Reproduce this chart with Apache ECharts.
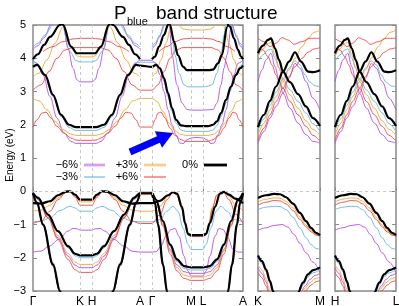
<!DOCTYPE html>
<html><head><meta charset="utf-8">
<script src="https://cdn.jsdelivr.net/npm/echarts@6/dist/echarts.min.js"></script>
<style>html,body{margin:0;padding:0;background:#fff}#c{width:399px;height:306px}</style>
</head><body><div id="c"></div>
<script>
// ---------- axis / tick data ----------
const mainTicks = [0, 47, 59, 107, 119, 158, 170, 210];
const mainLabels = ['Γ', 'K', 'H', 'A', 'Γ', 'M', 'L', 'A'];
const side1Ticks = [0, 62];
const side1Labels = ['K', 'M'];
const side2Ticks = [0, 62];
const side2Labels = ['H', 'L'];
const strainNames = ['−6%', '−3%', '+3%', '+6%', '0%'];
const strainColors = ['#b44fe6', '#62b6e8', '#f0a830', '#f04848', '#000000'];
const titleParts = ['P', 'blue', 'band structure'];
const yAxisTitle = 'Energy (eV)';

// ---------- main panel (Γ-K-H-A-Γ-M-L-A) bands: [k, E] ----------
const main_0 = [
 [[0,-0.06],[5,-0.2],[15,-0.7],[25,-1.2],[35,-1.65],[42,-1.88],[47,-1.93],[59,-1.93],[64,-1.88],[71,-1.65],[81,-1.2],[91,-0.7],[101,-0.2],[107,-0.06],[119,-0.06],[123,-0.25],[130,-0.9],[137,-1.6],[144,-2.05],[151,-2.25],[158,-2.29],[170,-2.29],[177,-2.25],[184,-2.05],[191,-1.6],[198,-0.9],[205,-0.25],[210,-0.06]],
 [[0,-0.36],[8,-0.37],[17,-0.3],[25,-0.12],[33,-0.01],[37,0],[42,-0.1],[47,-0.25],[59,-0.25],[64,-0.1],[69,0],[74,-0.01],[82,-0.12],[90,-0.3],[99,-0.37],[107,-0.36],[119,-0.36],[127,-0.29],[135,-0.12],[140,-0.03],[144,-0.07],[149,-0.47],[152,-0.95],[155,-1.28],[158,-1.32],[170,-1.32],[173,-1.28],[177,-0.95],[182,-0.47],[187,-0.07],[191,-0.02],[196,-0.1],[202,-0.22],[210,-0.36]],
 [[0,-0.06],[4,-0.35],[10,-1.0],[20,-2.2],[27,-3.0],[31,-3.5]],
 [[76,-3.5],[80,-3.0],[87,-2.2],[97,-1.0],[103,-0.35],[107,-0.06]],
 [[119,-0.06],[122,-0.35],[125,-1.0],[130,-2.2],[134,-3.0],[136,-3.5]],
 [[193,-3.5],[195,-3.0],[199,-2.2],[204,-1.0],[207,-0.35],[210,-0.06]],
 [[0,3.74],[4,3.8],[12,3.5],[20,2.9],[28,2.3],[36,2.0],[43,1.93],[47,1.93],[59,1.93],[63,1.93],[71,2.0],[79,2.3],[87,2.9],[95,3.5],[103,3.8],[107,3.78],[119,3.74],[123,3.8],[127,3.7],[131,3.4],[135,2.95],[139,2.5],[143,2.15],[148,1.98],[153,1.96],[158,1.96],[170,1.96],[175,1.96],[180,2.0],[184,2.1],[188,2.35],[193,2.75],[198,3.15],[203,3.5],[207,3.7],[210,3.78]],
 [[25,5.6],[30,5.0],[38,4.35],[44,4.15],[47,4.15],[59,4.15],[62,4.15],[68,4.35],[76,5.0],[81,5.6]],
 [[134,5.6],[137,5.0],[141,4.5],[145,4.09],[150,3.75],[154,3.64],[158,3.64],[170,3.64],[176,3.64],[180,3.66],[185,3.85],[189,4.1],[194,4.94],[197,5.6]],
 [[0,3.97],[5,4.12],[11,4.4],[17,4.64],[27,5.0],[33,5.3]],
 [[74,5.3],[80,5.0],[90,4.64],[96,4.4],[102,4.12],[107,3.97]],
 [[119,3.97],[122,4.05],[126,4.35],[131,4.7],[135,5.0],[138,5.3]],
 [[192,5.3],[197,4.95],[201,4.6],[205,4.25],[208,4.05],[210,3.97]]
];
const main_m3 = [
 [[0,-0.02],[5,-0.17],[15,-0.7],[25,-1.22],[35,-1.7],[42,-1.94],[47,-2.0],[59,-2.0],[64,-1.94],[71,-1.7],[81,-1.22],[91,-0.7],[101,-0.17],[107,-0.02],[119,-0.02],[123,-0.25],[130,-0.92],[137,-1.65],[144,-2.12],[151,-2.32],[158,-2.37],[170,-2.37],[177,-2.32],[184,-2.12],[191,-1.65],[198,-0.92],[205,-0.25],[210,-0.02]],
 [[0,-0.92],[8,-0.9],[17,-0.8],[27,-0.58],[37,-0.45],[42,-0.5],[47,-0.6],[59,-0.6],[64,-0.5],[69,-0.45],[79,-0.58],[89,-0.8],[99,-0.9],[107,-0.92],[119,-0.92],[127,-0.85],[134,-0.6],[140,-0.45],[145,-0.6],[150,-1.1],[155,-1.6],[158,-1.75],[170,-1.75],[173,-1.6],[178,-1.1],[183,-0.6],[188,-0.45],[194,-0.6],[201,-0.85],[210,-0.92]],
 [[0,-0.02],[4,-0.3],[10,-0.95],[20,-2.15],[27,-2.95],[31,-3.5]],
 [[76,-3.5],[80,-2.95],[87,-2.15],[97,-0.95],[103,-0.3],[107,-0.02]],
 [[119,-0.02],[122,-0.3],[125,-0.95],[130,-2.15],[134,-2.95],[136,-3.5]],
 [[193,-3.5],[195,-2.95],[199,-2.15],[204,-0.95],[207,-0.3],[210,-0.02]],
 [[0,3.88],[4,3.85],[12,3.45],[20,2.85],[28,2.25],[36,1.92],[43,1.83],[47,1.83],[59,1.83],[63,1.83],[71,1.92],[79,2.25],[87,2.85],[95,3.45],[103,3.85],[107,3.88],[119,3.88],[123,3.85],[127,3.65],[131,3.3],[135,2.85],[139,2.4],[143,2.05],[148,1.84],[153,1.8],[158,1.8],[170,1.8],[175,1.8],[180,1.84],[184,1.98],[188,2.25],[193,2.65],[198,3.1],[203,3.5],[207,3.75],[210,3.88]],
 [[24,5.6],[29,5.0],[37,4.2],[43,3.93],[47,3.89],[59,3.89],[63,3.93],[69,4.2],[77,5.0],[82,5.6]],
 [[136,5.6],[139,4.7],[142,4.09],[146,3.55],[151,3.2],[155,3.14],[158,3.14],[170,3.14],[175,3.16],[179,3.2],[184,3.55],[188,4.09],[191,4.7],[194,5.6]],
 [[0,4.34],[5,4.45],[12,4.7],[20,5.0],[26,5.3]],
 [[81,5.3],[87,5.0],[95,4.7],[102,4.45],[107,4.34]],
 [[119,4.34],[122,4.45],[127,4.7],[132,5.0],[135,5.3]],
 [[195,5.3],[198,5.0],[203,4.7],[207,4.45],[210,4.34]]
];
const main_m6 = [
 [[0,-0.1],[5,-0.25],[15,-0.8],[25,-1.4],[35,-1.95],[42,-2.22],[47,-2.3],[59,-2.3],[64,-2.22],[71,-1.95],[81,-1.4],[91,-0.8],[101,-0.25],[107,-0.1],[119,-0.1],[123,-0.3],[130,-1.0],[137,-1.75],[144,-2.22],[151,-2.42],[158,-2.47],[170,-2.47],[177,-2.42],[184,-2.22],[191,-1.75],[198,-1.0],[205,-0.3],[210,-0.1]],
 [[0,-1.83],[8,-1.8],[16,-1.65],[26,-1.45],[35,-1.2],[40,-1.12],[44,-1.13],[47,-1.17],[59,-1.17],[62,-1.13],[67,-1.12],[72,-1.2],[81,-1.45],[91,-1.65],[99,-1.8],[107,-1.83],[119,-1.83],[123,-1.82],[128,-1.65],[133,-1.35],[138,-1.15],[142,-1.12],[146,-1.35],[151,-1.95],[155,-2.4],[158,-2.55],[170,-2.55],[173,-2.4],[177,-1.95],[182,-1.35],[186,-1.12],[190,-1.15],[195,-1.4],[200,-1.75],[205,-1.83],[210,-1.83]],
 [[0,-0.1],[4,-0.4],[10,-1.05],[20,-2.25],[27,-3.05],[31,-3.5]],
 [[76,-3.5],[80,-3.05],[87,-2.25],[97,-1.05],[103,-0.4],[107,-0.1]],
 [[119,-0.1],[122,-0.4],[125,-1.05],[130,-2.25],[134,-3.05],[136,-3.5]],
 [[193,-3.5],[195,-3.05],[199,-2.25],[204,-1.05],[207,-0.4],[210,-0.1]],
 [[0,3.94],[4,3.85],[10,3.5],[17,2.85],[24,2.2],[31,1.75],[38,1.5],[43,1.44],[47,1.44],[59,1.44],[63,1.44],[68,1.5],[75,1.75],[82,2.2],[89,2.85],[96,3.5],[102,3.85],[107,3.94],[119,3.94],[123,3.85],[127,3.5],[131,3.0],[135,2.45],[139,2.0],[143,1.7],[147,1.45],[150,1.43],[154,1.55],[158,1.6],[164,1.62],[170,1.6],[174,1.55],[178,1.43],[181,1.45],[185,1.7],[189,2.0],[193,2.45],[197,3.0],[201,3.5],[205,3.85],[210,3.94]],
 [[26,5.6],[30,5.0],[35,4.3],[40,3.7],[44,3.35],[47,3.29],[59,3.29],[62,3.35],[66,3.7],[71,4.3],[76,5.0],[80,5.6]],
 [[136,5.6],[139,4.1],[144,3.2],[149,2.65],[154,2.46],[158,2.44],[170,2.44],[180,2.46],[184,2.65],[188,3.2],[191,3.7],[194,4.1],[198,4.9],[201,5.6]],
 [[0,4.27],[5,4.38],[11,4.62],[18,5.0],[24,5.3]],
 [[83,5.3],[89,5.0],[96,4.62],[102,4.38],[107,4.27]],
 [[119,4.27],[122,4.38],[126,4.62],[131,5.0],[134,5.3]],
 [[196,5.3],[199,5.0],[204,4.62],[207,4.38],[210,4.27]]
];
const main_p3 = [
 [[0,-0.1],[5,-0.24],[15,-0.76],[25,-1.33],[35,-1.87],[42,-2.13],[47,-2.2],[59,-2.2],[64,-2.13],[71,-1.87],[81,-1.33],[91,-0.76],[101,-0.24],[107,-0.1],[119,-0.1],[123,-0.3],[130,-1.02],[137,-1.8],[144,-2.3],[151,-2.52],[158,-2.58],[170,-2.58],[177,-2.52],[184,-2.3],[191,-1.8],[198,-1.02],[205,-0.3],[210,-0.1]],
 [[0,-0.6],[8,-0.57],[17,-0.42],[25,-0.2],[33,-0.03],[37,-0.01],[42,-0.12],[47,-0.32],[59,-0.32],[64,-0.12],[69,-0.01],[74,-0.03],[82,-0.2],[90,-0.42],[99,-0.57],[107,-0.6],[119,-0.6],[127,-0.45],[135,-0.15],[140,-0.04],[144,-0.1],[149,-0.5],[152,-0.97],[155,-1.3],[158,-1.34],[170,-1.34],[173,-1.3],[176,-0.97],[179,-0.5],[184,-0.1],[190,-0.02],[196,-0.15],[202,-0.4],[210,-0.6]],
 [[0,-0.1],[4,-0.38],[10,-1.02],[20,-2.22],[27,-3.02],[31,-3.5]],
 [[76,-3.5],[80,-3.02],[87,-2.22],[97,-1.02],[103,-0.38],[107,-0.1]],
 [[119,-0.1],[122,-0.38],[125,-1.02],[130,-2.22],[134,-3.02],[136,-3.5]],
 [[193,-3.5],[195,-3.02],[199,-2.22],[204,-1.02],[207,-0.38],[210,-0.1]],
 [[0,2.79],[6,2.72],[14,2.45],[22,2.1],[30,1.85],[38,1.72],[43,1.68],[47,1.68],[59,1.68],[63,1.68],[68,1.72],[76,1.85],[84,2.1],[92,2.45],[100,2.72],[107,2.79],[119,2.79],[124,2.7],[130,2.4],[136,2.05],[142,1.82],[148,1.71],[153,1.68],[158,1.68],[170,1.68],[175,1.68],[180,1.71],[186,1.82],[192,2.05],[198,2.4],[204,2.7],[210,2.79]],
 [[25,5.6],[31,5.0],[38,4.35],[44,4.07],[47,4.04],[59,4.04],[62,4.07],[68,4.35],[75,5.0],[81,5.6]],
 [[138,5.6],[144,5.05],[150,4.88],[158,4.85],[170,4.85],[178,4.88],[184,5.05],[190,5.6]],
 [[0,3.44],[6,3.55],[14,3.95],[22,4.45],[30,4.95],[35,5.3]],
 [[72,5.3],[77,4.95],[85,4.45],[93,3.95],[101,3.55],[107,3.44]],
 [[119,3.44],[123,3.55],[128,3.95],[133,4.45],[138,4.95],[141,5.3]],
 [[188,5.3],[191,4.95],[196,4.45],[201,3.95],[206,3.55],[210,3.44]]
];
const main_p6 = [
 [[0,-0.04],[5,-0.2],[15,-0.8],[25,-1.45],[35,-2.05],[42,-2.36],[47,-2.44],[59,-2.44],[64,-2.36],[71,-2.05],[81,-1.45],[91,-0.8],[101,-0.2],[107,-0.04],[119,-0.04],[123,-0.28],[130,-1.05],[137,-1.88],[144,-2.4],[151,-2.62],[158,-2.68],[170,-2.68],[177,-2.62],[184,-2.4],[191,-1.88],[198,-1.05],[205,-0.28],[210,-0.04]],
 [[0,-0.97],[8,-0.9],[17,-0.6],[25,-0.25],[33,-0.04],[37,-0.01],[42,-0.18],[47,-0.42],[59,-0.42],[64,-0.18],[69,-0.01],[74,-0.04],[82,-0.25],[90,-0.6],[99,-0.9],[107,-0.97],[119,-0.97],[127,-0.7],[134,-0.25],[140,-0.03],[144,-0.12],[149,-0.55],[152,-1.0],[155,-1.32],[158,-1.36],[170,-1.36],[173,-1.32],[176,-1.0],[179,-0.55],[184,-0.12],[190,-0.01],[196,-0.25],[203,-0.7],[210,-0.97]],
 [[0,-0.04],[4,-0.35],[10,-1.0],[20,-2.25],[27,-3.05],[31,-3.5]],
 [[76,-3.5],[80,-3.05],[87,-2.25],[97,-1.0],[103,-0.35],[107,-0.04]],
 [[119,-0.04],[122,-0.35],[125,-1.0],[130,-2.25],[134,-3.05],[136,-3.5]],
 [[193,-3.5],[195,-3.05],[199,-2.25],[204,-1.0],[207,-0.35],[210,-0.04]],
 [[0,1.93],[4,2.15],[9,2.35],[13,2.38],[18,2.2],[24,1.95],[31,1.75],[38,1.6],[43,1.54],[47,1.53],[59,1.53],[63,1.54],[68,1.6],[75,1.75],[82,1.95],[88,2.2],[93,2.38],[98,2.35],[103,2.15],[107,1.93],[119,1.93],[122,2.15],[125,2.35],[128,2.38],[132,2.2],[137,1.9],[142,1.68],[148,1.55],[153,1.5],[158,1.5],[170,1.5],[175,1.5],[180,1.55],[186,1.68],[191,1.9],[196,2.2],[200,2.38],[203,2.35],[206,2.15],[210,1.93]],
 [[0,3.04],[8,3.2],[16,3.6],[24,4.0],[32,4.25],[40,4.32],[47,4.32],[59,4.32],[67,4.32],[75,4.25],[83,4.0],[91,3.6],[99,3.2],[107,3.04],[119,3.04],[125,3.2],[131,3.6],[137,4.0],[143,4.25],[150,4.32],[158,4.32],[170,4.32],[178,4.32],[185,4.25],[191,4.0],[197,3.6],[203,3.2],[210,3.04]],
 [[10,4.2],[20,4.35],[30,4.5],[40,4.58],[47,4.6],[59,4.6],[66,4.58],[76,4.5],[86,4.35],[96,4.2]],
 [[126,4.2],[134,4.35],[142,4.5],[150,4.58],[158,4.6],[170,4.6],[178,4.58],[186,4.5],[194,4.35],[202,4.2]]
];

// ---------- side panels (K-M and H-L, identical) bands: [k, E] ----------
const side_0 = [
 [[0,-0.2],[8,-0.12],[16,-0.08],[22,-0.09],[28,-0.18],[35,-0.37],[42,-0.65],[48,-0.9],[53,-1.1],[58,-1.25],[62,-1.32]],
 [[0,-1.93],[4,-2.1],[8,-2.35],[12,-2.7],[15,-3.0],[19,-3.4]],
 [[37,-3.4],[40,-3.05],[45,-2.75],[50,-2.5],[55,-2.37],[62,-2.29]],
 [[0,1.93],[6,2.3],[12,2.72],[18,3.15],[25,3.6],[31,3.9],[37,4.18],[43,3.9],[50,3.6],[55,3.58],[62,3.64]],
 [[0,4.15],[5,4.38],[10,4.55],[13,4.6],[17,4.3],[21,3.95],[25,3.6],[32,3.28],[40,2.92],[48,2.55],[55,2.2],[62,1.96]]
];
const side_m3 = [
 [[0,-0.55],[8,-0.48],[16,-0.45],[22,-0.46],[28,-0.55],[35,-0.78],[42,-1.1],[48,-1.4],[53,-1.6],[58,-1.72],[62,-1.75]],
 [[0,-2.0],[4,-2.17],[8,-2.42],[12,-2.77],[15,-3.07],[19,-3.45]],
 [[37,-3.45],[40,-3.1],[45,-2.82],[50,-2.57],[55,-2.45],[62,-2.37]],
 [[0,1.83],[6,2.18],[12,2.58],[18,2.98],[25,3.38],[31,3.7],[37,3.92],[42,3.8],[47,3.5],[52,3.28],[57,3.17],[62,3.14]],
 [[0,3.89],[5,4.1],[10,4.25],[13,4.28],[17,4.0],[21,3.7],[25,3.38],[32,3.05],[40,2.7],[48,2.35],[55,2.03],[62,1.8]]
];
const side_m6 = [
 [[0,-1.17],[8,-1.1],[16,-1.03],[24,-1.0],[30,-1.08],[36,-1.3],[42,-1.57],[48,-1.85],[55,-2.13],[62,-2.45]],
 [[0,-2.3],[4,-2.47],[8,-2.72],[11,-3.0],[15,-3.45]],
 [[38,-3.45],[42,-3.1],[47,-2.85],[52,-2.65],[57,-2.53],[62,-2.47]],
 [[0,1.44],[6,1.8],[12,2.2],[18,2.55],[25,2.95],[31,3.4],[37,3.85],[42,3.7],[48,3.3],[55,2.8],[62,2.44]],
 [[0,3.29],[4,3.65],[8,3.95],[13,4.15],[17,3.75],[21,3.35],[25,2.95],[32,2.5],[40,2.05],[48,1.7],[55,1.5],[62,1.45]]
];
const side_p3 = [
 [[0,-0.32],[8,-0.24],[16,-0.2],[22,-0.21],[28,-0.3],[35,-0.5],[42,-0.78],[48,-1.02],[53,-1.18],[58,-1.3],[62,-1.34]],
 [[0,-2.2],[4,-2.37],[8,-2.62],[11,-2.9],[15,-3.3]],
 [[38,-3.5],[42,-3.15],[47,-2.92],[52,-2.75],[57,-2.63],[62,-2.58]],
 [[0,1.68],[6,2.05],[12,2.45],[18,2.85],[25,3.3],[31,3.65],[37,4.0],[44,4.35],[50,4.6],[56,4.78],[62,4.85]],
 [[0,4.04],[5,4.28],[10,4.45],[13,4.48],[17,4.1],[21,3.72],[25,3.3],[32,2.9],[40,2.5],[48,2.12],[55,1.86],[62,1.68]]
];
const side_p6 = [
 [[0,-0.42],[8,-0.33],[16,-0.28],[22,-0.29],[28,-0.38],[35,-0.58],[42,-0.85],[48,-1.07],[53,-1.22],[58,-1.32],[62,-1.36]],
 [[0,-2.44],[4,-2.6],[8,-2.85],[11,-3.1],[14,-3.5]],
 [[39,-3.5],[43,-3.2],[48,-2.98],[53,-2.82],[58,-2.72],[62,-2.68]],
 [[0,1.53],[6,1.9],[12,2.3],[18,2.7],[25,3.1],[31,3.45],[37,3.75],[44,4.0],[50,4.18],[56,4.28],[62,4.32]],
 [[0,4.32],[5,4.25],[10,4.05],[14,3.8],[18,3.5],[21,3.3],[25,3.1],[32,2.7],[40,2.3],[48,1.95],[55,1.68],[62,1.5]],
 [[0,4.6],[6,4.5],[12,4.35],[18,4.45],[24,4.62],[30,4.55],[36,4.42],[44,4.5],[52,4.6],[62,4.6]]
];

const mainSets = [main_m6, main_m3, main_p3, main_p6, main_0];
const sideSets = [side_m6, side_m3, side_p3, side_p6, side_0];

// ---------- build chart ----------
const FONT = 'Liberation Sans, Arial, sans-serif';
const chart = echarts.init(document.getElementById('c'), null, {renderer: 'canvas'});
const gridBox = [
  {left: 33, top: 25, width: 210, height: 266},
  {left: 258, top: 25, width: 62, height: 266},
  {left: 335, top: 25, width: 61, height: 266}
];
const xMax = [210, 62, 62];
const tickSets = [[mainTicks, mainLabels], [side1Ticks, side1Labels], [side2Ticks, side2Labels]];

const grids = gridBox.map(g => Object.assign({show: true, borderColor: '#8a8a8a', borderWidth: 1.5,
  backgroundColor: 'transparent', containLabel: false, outerBoundsMode: 'none'}, g));
const xAxes = tickSets.map((t, i) => ({
  type: 'value', gridIndex: i, min: 0, max: xMax[i],
  axisLine: {show: false}, splitLine: {show: false},
  axisTick: {show: true, inside: true, length: 4, customValues: t[0], lineStyle: {color: '#8a8a8a'}},
  axisLabel: {show: true, customValues: t[0], margin: 5, fontSize: 12, color: '#000', fontFamily: FONT,
    formatter: v => { const j = t[0].indexOf(v); return j >= 0 ? t[1][j] : ''; }},
}));
const yAxes = [];
for (let i = 0; i < 3; i++) {
  ['left', 'right'].forEach(pos => {
    yAxes.push({
      type: 'value', gridIndex: i, position: pos, min: -3, max: 5, interval: 1,
      axisLine: {show: false}, splitLine: {show: false},
      axisTick: {show: true, inside: true, length: 4, lineStyle: {color: '#8a8a8a'}},
      axisLabel: {show: i === 0 && pos === 'left', fontSize: 11, color: '#000', fontFamily: FONT, margin: 7,
        formatter: v => v < 0 ? '−' + (-v) : String(v)}
    });
  });
}

const series = [];
for (let i = 0; i < 3; i++) {
  const md = [{yAxis: 0}];
  if (i === 0) mainTicks.slice(1, -1).forEach(v => md.push({xAxis: v}));
  series.push({
    type: 'line', xAxisIndex: i, yAxisIndex: i * 2, data: [], silent: true, z: 1,
    markLine: {silent: true, symbol: ['none', 'none'], label: {show: false}, animation: false,
      lineStyle: {type: [3, 3], color: '#c8c8c8', width: 1}, data: md}
  });
}
function addBands(sets, xi) {
  sets.forEach((bands, s) => {
    const isBlack = s === 4;
    bands.forEach(b => {
      series.push({
        type: 'line', xAxisIndex: xi, yAxisIndex: xi * 2, data: b,
        smooth: 0.35, smoothMonotone: 'x', symbol: 'none', silent: true, animation: false,
        z: isBlack ? 4 : 3, clip: true,
        lineStyle: {color: strainColors[s], width: isBlack ? 2.2 : 1.0, opacity: isBlack ? 1 : 0.9}
      });
    });
  });
}
addBands(mainSets, 0);
addBands(sideSets, 1);
addBands(sideSets, 2);

const legendRows = [
  [[0, 78, 84, 105], [2, 138, 144, 166], [4, 198, 204, 227]],
  [[1, 78, 84, 105], [3, 138, 144, 166]]
];
const legendY = [165, 177];
const graphics = [];
legendRows.forEach((row, r) => {
  row.forEach(([s, tx, x1, x2]) => {
    graphics.push({type: 'text', x: tx, y: legendY[r], z: 10,
      style: {text: strainNames[s], font: '11px ' + FONT, fill: '#000', textAlign: 'right', textVerticalAlign: 'middle'}});
    const thick = (s === 0 || s === 2 || s === 4);
    graphics.push({type: 'line', z: 10, shape: {x1: x1, y1: legendY[r], x2: x2, y2: legendY[r]},
      style: {stroke: strainColors[s], lineWidth: thick ? 2.8 : 1.2, opacity: s === 4 ? 1 : (thick ? 0.55 : 0.9)}});
  });
});
// title: P with subscript "blue"
graphics.push({type: 'text', x: 114, y: 14, z: 10,
  style: {text: titleParts[0], font: '19px ' + FONT, fill: '#000', textAlign: 'left', textVerticalAlign: 'middle'}});
graphics.push({type: 'text', x: 127, y: 22, z: 10,
  style: {text: titleParts[1], font: '11px ' + FONT, fill: '#000', textAlign: 'left', textVerticalAlign: 'middle'}});
graphics.push({type: 'text', x: 156, y: 14, z: 10,
  style: {text: titleParts[2], font: '19px ' + FONT, fill: '#000', textAlign: 'left', textVerticalAlign: 'middle'}});
// y-axis title (rotated)
graphics.push({type: 'text', x: 10, y: 155, rotation: Math.PI / 2, z: 10,
  style: {text: yAxisTitle, font: '10px ' + FONT, fill: '#000', textAlign: 'center', textVerticalAlign: 'middle'}});
// blue arrow
graphics.push({type: 'polygon', z: 10,
  shape: {points: [[131.4,155.2],[159.8,142.7],[162.0,147.7],[173,133],[154.8,131.3],[157.0,136.3],[128.6,148.8]]},
  style: {fill: '#0000ff'}});

chart.setOption({
  animation: false,
  backgroundColor: '#fff',
  grid: grids, xAxis: xAxes, yAxis: yAxes, series: series, graphic: graphics
});
</script></body></html>
